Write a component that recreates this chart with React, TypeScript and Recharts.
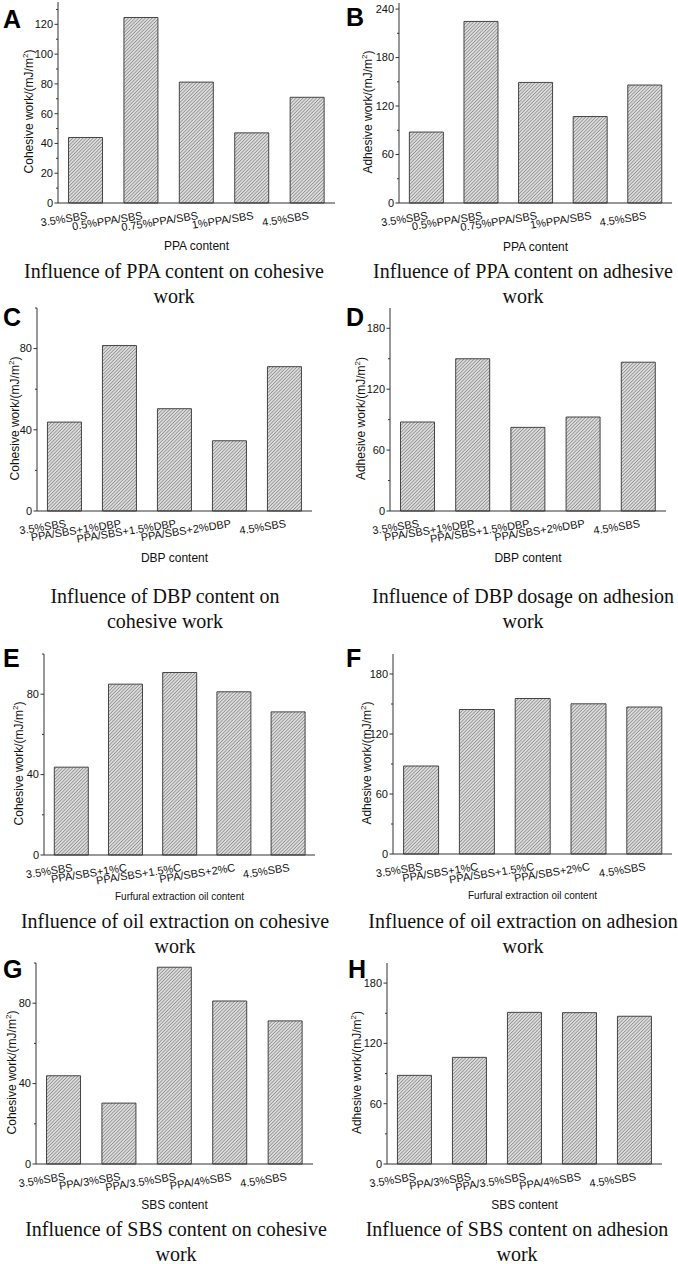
import React from "react";
import { BarChart, Bar, XAxis, YAxis, Label } from "recharts";

// categories
const PPA_CATS = ["3.5%SBS", "0.5%PPA/SBS", "0.75%PPA/SBS", "1%PPA/SBS", "4.5%SBS"];
const DBP_CATS = ["3.5%SBS", "PPA/SBS+1%DBP", "PPA/SBS+1.5%DBP", "PPA/SBS+2%DBP", "4.5%SBS"];
const OIL_CATS = ["3.5%SBS", "PPA/SBS+1%C", "PPA/SBS+1.5%C", "PPA/SBS+2%C", "4.5%SBS"];
const SBS_CATS = ["3.5%SBS", "PPA/3%SBS", "PPA/3.5%SBS", "PPA/4%SBS", "4.5%SBS"];

// values (mJ/m2)
const A_COHESIVE = [44, 124.6, 81.2, 47.1, 71];
const B_ADHESIVE = [87.8, 224.7, 149.2, 107, 146];
const C_COHESIVE = [43.8, 81.5, 50.4, 34.6, 71.1];
const D_ADHESIVE = [87.7, 150, 82.4, 92.6, 146.6];
const E_COHESIVE = [43.7, 85, 90.8, 81.2, 71.2];
const F_ADHESIVE = [88, 144.5, 155.5, 150.2, 147];
const G_COHESIVE = [43.9, 30.3, 97.9, 81.1, 71.2];
const H_ADHESIVE = [88.2, 106.1, 150.9, 150.6, 147];

// y ticks
const MAJOR_20 = [0, 20, 40, 60, 80, 100, 120];
const MINOR_20 = [10, 30, 50, 70, 90, 110, 130];
const MAJOR_40 = [0, 40, 80];
const MINOR_40 = [20, 60, 100];
const MAJOR_60 = [0, 60, 120, 180, 240];
const MINOR_60 = [30, 90, 150, 210];

const SANS = "'Liberation Sans', Arial, sans-serif";
const SERIF = "'Liberation Serif', 'Times New Roman', serif";
const INK = "#111";
const FRAME = "#333";

// layout: plot rect in page px
const PANELS = [
  { key: "A", cats: PPA_CATS, values: A_COHESIVE, yMax: 135, major: MAJOR_20, minor: MINOR_20, yLabel: "Cohesive work/(mJ/m", yLabelGap: 25,
    xTitle: "PPA content", xTitleSize: 12, xTitleDy: 47, col: 0, row: 0, plot: { l: 58, r: 335, t: 2, b: 203 },
    letterX: 3, letterY: 27, title: ["Influence of PPA content on cohesive", "work"], titleX: 174, titleY: 278 },
  { key: "B", cats: PPA_CATS, values: B_ADHESIVE, yMax: 247.5, major: MAJOR_60, minor: MINOR_60, yLabel: "Adhesive work/(mJ/m", yLabelGap: 27,
    xTitle: "PPA content", xTitleSize: 12, xTitleDy: 48, col: 339, row: 0, plot: { l: 399, r: 672, t: 3, b: 203 },
    letterX: 346, letterY: 25, title: ["Influence of PPA content on adhesive", "work"], titleX: 523, titleY: 278 },
  { key: "C", cats: DBP_CATS, values: C_COHESIVE, yMax: 100, major: MAJOR_40, minor: MINOR_40, yLabel: "Cohesive work/(mJ/m", yLabelGap: 18,
    xTitle: "DBP content", xTitleSize: 12, xTitleDy: 51, col: 0, row: 290, plot: { l: 37, r: 312, t: 308, b: 511 },
    letterX: 3, letterY: 325, title: ["Influence of DBP content on", "cohesive work"], titleX: 165, titleY: 603 },
  { key: "D", cats: DBP_CATS, values: D_ADHESIVE, yMax: 200, major: MAJOR_60, minor: MINOR_60, yLabel: "Adhesive work/(mJ/m", yLabelGap: 25,
    xTitle: "DBP content", xTitleSize: 12, xTitleDy: 51, col: 339, row: 290, plot: { l: 390, r: 666, t: 308, b: 511 },
    letterX: 346, letterY: 325, title: ["Influence of DBP dosage on adhesion", "work"], titleX: 523, titleY: 603 },
  { key: "E", cats: OIL_CATS, values: E_COHESIVE, yMax: 100, major: MAJOR_40, minor: MINOR_40, yLabel: "Cohesive work/(mJ/m", yLabelGap: 21,
    xTitle: "Furfural extraction oil content", xTitleSize: 10, xTitleDy: 45, col: 0, row: 640, plot: { l: 44, r: 315, t: 654, b: 855 },
    letterX: 3, letterY: 666, title: ["Influence of oil extraction on cohesive", "work"], titleX: 175, titleY: 928 },
  { key: "F", cats: OIL_CATS, values: F_ADHESIVE, yMax: 200, major: MAJOR_60, minor: MINOR_60, yLabel: "Adhesive work/(mJ/m", yLabelGap: 22,
    xTitle: "Furfural extraction oil content", xTitleSize: 10, xTitleDy: 45, col: 339, row: 640, plot: { l: 393, r: 672, t: 654, b: 854 },
    letterX: 346, letterY: 666, title: ["Influence of oil extraction on adhesion", "work"], titleX: 523, titleY: 928 },
  { key: "G", cats: SBS_CATS, values: G_COHESIVE, yMax: 100, major: MAJOR_40, minor: MINOR_40, yLabel: "Cohesive work/(mJ/m", yLabelGap: 20,
    xTitle: "SBS content", xTitleSize: 12, xTitleDy: 45, col: 0, row: 950, plot: { l: 36, r: 313, t: 963, b: 1164 },
    letterX: 3, letterY: 977, title: ["Influence of SBS content on cohesive", "work"], titleX: 176, titleY: 1236 },
  { key: "H", cats: SBS_CATS, values: H_ADHESIVE, yMax: 200, major: MAJOR_60, minor: MINOR_60, yLabel: "Adhesive work/(mJ/m", yLabelGap: 26,
    xTitle: "SBS content", xTitleSize: 12, xTitleDy: 45, col: 339, row: 950, plot: { l: 387, r: 662, t: 963, b: 1164 },
    letterX: 348, letterY: 977, title: ["Influence of SBS content on adhesion", "work"], titleX: 517, titleY: 1236 },
];

const COL_W = 339;
const X_AXIS_H = 70;

function XTick(props: any) {
  const { x, y, payload } = props;
  const tx = x + 2;
  const ty = y + 16;
  return (
    <text x={tx} y={ty} transform={`rotate(-9, ${tx}, ${ty})`} textAnchor="end" fontSize={11} fontFamily={SANS} fill={INK}>
      {payload.value}
    </text>
  );
}

function makeYTick(major: number[]) {
  return function YTick(props: any) {
    const { x, y, payload } = props;
    const isMajor = major.includes(payload.value);
    return (
      <g>
        <line x1={x - (isMajor ? 3.5 : 2)} x2={x} y1={y} y2={y} stroke={FRAME} strokeWidth={1} />
        {isMajor && (
          <text x={x - 5} y={y} dy="0.35em" textAnchor="end" fontSize={11} fontFamily={SANS} fill={INK}>
            {payload.value}
          </text>
        )}
      </g>
    );
  };
}

function Panel({ p }: { p: (typeof PANELS)[number] }) {
  const data = p.cats.map((name, i) => ({ name, value: p.values[i] }));
  const ticks = [...p.major, ...p.minor].filter((t) => t <= p.yMax).sort((a, b) => a - b);
  const height = p.plot.b - p.row + X_AXIS_H;
  const YTick = makeYTick(p.major);

  return (
    <>
      <div style={{ position: "absolute", left: p.col, top: p.row }}>
        <BarChart
          width={COL_W}
          height={height}
          data={data}
          margin={{ top: p.plot.t - p.row, right: p.col + COL_W - p.plot.r, bottom: 0, left: 0 }}
          barCategoryGap="19%"
        >
          <XAxis
            dataKey="name"
            height={X_AXIS_H}
            interval={0}
            tickSize={0}
            tickMargin={0}
            tickLine={false}
            axisLine={{ stroke: FRAME }}
            tick={<XTick />}
          >
            <Label
              content={(lp: any) => {
                const vb = lp.viewBox;
                return (
                  <text x={vb.x + vb.width / 2} y={vb.y + p.xTitleDy} textAnchor="middle" fontSize={p.xTitleSize} fontFamily={SANS} fill={INK}>
                    {p.xTitle}
                  </text>
                );
              }}
            />
          </XAxis>
          <XAxis xAxisId="top" orientation="top" dataKey="name" height={0} tick={false} tickLine={false} axisLine={{ stroke: FRAME }} />
          <YAxis
            type="number"
            domain={[0, p.yMax]}
            ticks={ticks}
            interval={0}
            width={p.plot.l - p.col}
            tickSize={0}
            tickMargin={0}
            tickLine={false}
            axisLine={{ stroke: FRAME }}
            tick={<YTick />}
          >
            <Label
              content={(lp: any) => {
                const vb = lp.viewBox;
                const x = vb.x + vb.width - p.yLabelGap;
                const y = vb.y + vb.height / 2 + 9;
                return (
                  <text x={x} y={y} transform={`rotate(-90, ${x}, ${y})`} textAnchor="middle" fontSize={12} fontFamily={SANS} fill={INK}>
                    {p.yLabel}
                    <tspan dy={-5} fontSize={8}>2</tspan>
                    <tspan dy={5}>)</tspan>
                  </text>
                );
              }}
            />
          </YAxis>
          <YAxis yAxisId="right" orientation="right" type="number" domain={[0, p.yMax]} width={0} tick={false} tickLine={false} axisLine={{ stroke: FRAME }} />
          <Bar dataKey="value" fill="url(#hatch)" stroke="#333" strokeWidth={0.9} isAnimationActive={false} />
        </BarChart>
      </div>
      <div
        style={{
          position: "absolute",
          left: p.letterX,
          top: p.letterY - 22,
          fontFamily: SANS,
          fontWeight: "bold",
          fontSize: 25,
          lineHeight: "28px",
          color: "#000",
        }}
      >
        {p.key}
      </div>
      <div
        style={{
          position: "absolute",
          left: p.titleX - 175,
          width: 350,
          top: p.titleY - 19,
          textAlign: "center",
          fontFamily: SERIF,
          fontSize: 20,
          lineHeight: "25px",
          color: "#111",
          whiteSpace: "nowrap",
        }}
      >
        {p.title.map((line) => (
          <div key={line}>{line}</div>
        ))}
      </div>
    </>
  );
}

export default function App() {
  return (
    <div style={{ position: "absolute", left: 0, top: 0, width: 678, height: 1264, background: "#fff", overflow: "hidden" }}>
      <svg width={0} height={0} style={{ position: "absolute" }}>
        <defs>
          <pattern id="hatch" width={2.4} height={2.4} patternUnits="userSpaceOnUse" patternTransform="rotate(45)">
            <rect width={2.4} height={2.4} fill="#dcdcdc" />
            <line x1={0} y1={0} x2={0} y2={2.4} stroke="#555" strokeWidth={0.9} />
          </pattern>
        </defs>
      </svg>
      {PANELS.map((p) => (
        <Panel key={p.key} p={p} />
      ))}
    </div>
  );
}
